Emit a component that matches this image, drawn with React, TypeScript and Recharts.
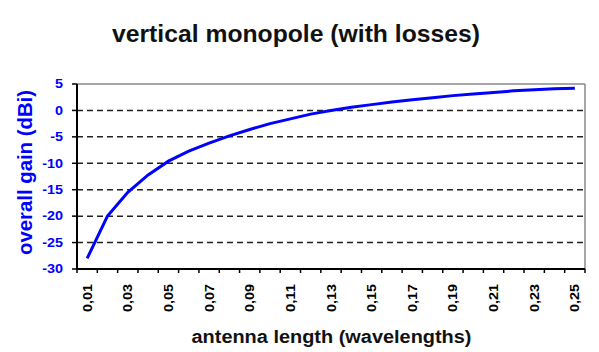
import { LineChart, Line, XAxis, YAxis, ReferenceLine } from "recharts";

const LENGTHS = [
  0.01, 0.02, 0.03, 0.04, 0.05, 0.06, 0.07, 0.08, 0.09, 0.1, 0.11, 0.12, 0.13,
  0.14, 0.15, 0.16, 0.17, 0.18, 0.19, 0.2, 0.21, 0.22, 0.23, 0.24, 0.25,
];
const GAIN = [
  -28.0, -20.0, -15.5, -12.2, -9.6, -7.7, -6.2, -4.8, -3.6, -2.5, -1.6, -0.7,
  0.0, 0.6, 1.1, 1.6, 2.0, 2.4, 2.8, 3.1, 3.4, 3.7, 3.9, 4.1, 4.2,
];
const LABEL_TICKS = [
  0.01, 0.03, 0.05, 0.07, 0.09, 0.11, 0.13, 0.15, 0.17, 0.19, 0.21, 0.23, 0.25,
];
const EDGE_TICKS = [
  0.005, 0.015, 0.025, 0.035, 0.045, 0.055, 0.065, 0.075, 0.085, 0.095, 0.105,
  0.115, 0.125, 0.135, 0.145, 0.155, 0.165, 0.175, 0.185, 0.195, 0.205, 0.215,
  0.225, 0.235, 0.245, 0.255,
];
const Y_TICKS = [-30, -25, -20, -15, -10, -5, 0, 5];
const GRID_LINES = [-25, -20, -15, -10, -5, 0];
const X_DOMAIN = [0.005, 0.255];

const FONT = "'Liberation Sans', Arial, sans-serif";
const BLUE = "#0000ff";

const data = LENGTHS.map((len, i) => ({ len, gain: GAIN[i] }));

// rotated labels, read bottom to top, top end just under the axis
function XTick({ x, y, payload }: any) {
  const label = payload.value.toFixed(2).replace(".", ",");
  return (
    <text
      transform={`translate(${x + 4.5},${y + 14}) rotate(-90)`}
      textAnchor="end"
      fontFamily={FONT}
      fontSize={13}
      fontWeight="bold"
      fill="#000"
      textLength={28}
      lengthAdjust="spacingAndGlyphs"
    >
      {label}
    </text>
  );
}

// small outward tick under the axis, between categories
function EdgeTick({ x, y }: any) {
  return <line x1={x} x2={x} y1={y - 4} y2={y} stroke="#000" strokeWidth={1.5} />;
}

function YTick({ x, y, payload }: any) {
  return (
    <g>
      <line x1={x + 9} x2={x + 14} y1={y} y2={y} stroke="#000" strokeWidth={1.5} />
      <text
        transform={`translate(${x},${y}) scale(1.2,1)`}
        textAnchor="end"
        dy="0.36em"
        fontFamily={FONT}
        fontSize={12}
        fontWeight="bold"
        fill={BLUE}
      >
        {payload.value}
      </text>
    </g>
  );
}

export default function App() {
  return (
    <div
      style={{
        position: "absolute",
        left: 0,
        top: 0,
        width: 599,
        height: 352,
        background: "#fff",
      }}
    >
      <LineChart
        width={599}
        height={352}
        data={data}
        margin={{ top: 84, right: 14, bottom: 81, left: 17 }}
      >
        <XAxis
          xAxisId="x"
          dataKey="len"
          type="number"
          domain={X_DOMAIN}
          ticks={LABEL_TICKS}
          interval={0}
          height={1}
          tickSize={0}
          tickMargin={0}
          tickLine={false}
          axisLine={false}
          tick={XTick}
          allowDataOverflow
        />
        <XAxis
          xAxisId="edges"
          dataKey="len"
          type="number"
          domain={X_DOMAIN}
          ticks={EDGE_TICKS}
          interval={0}
          height={1}
          tickSize={4}
          tickMargin={0}
          tickLine={false}
          axisLine={false}
          tick={EdgeTick}
          allowDataOverflow
        />
        <YAxis
          width={60}
          domain={[-30, 5]}
          ticks={Y_TICKS}
          interval={0}
          tickSize={5}
          tickMargin={9}
          tickLine={false}
          axisLine={false}
          tick={YTick}
          allowDataOverflow
        />
        {GRID_LINES.map((v) => (
          <ReferenceLine
            key={v}
            xAxisId="x"
            y={v}
            stroke="#222"
            strokeWidth={1.5}
            strokeDasharray="6 4"
          />
        ))}
        <ReferenceLine xAxisId="x" y={5} stroke="#888" strokeWidth={1.5} />
        <ReferenceLine xAxisId="x" x={0.255} stroke="#888" strokeWidth={1.5} />
        <ReferenceLine xAxisId="x" y={-30} stroke="#000" strokeWidth={2} />
        <ReferenceLine xAxisId="x" x={0.005} stroke="#000" strokeWidth={2} />
        <Line
          xAxisId="x"
          type="linear"
          dataKey="gain"
          stroke={BLUE}
          strokeWidth={3}
          dot={false}
          isAnimationActive={false}
        />
      </LineChart>
      <svg
        width={599}
        height={352}
        style={{ position: "absolute", left: 0, top: 0, pointerEvents: "none" }}
      >
        <text
          x={296}
          y={42}
          textAnchor="middle"
          fontFamily={FONT}
          fontSize={24}
          fontWeight="bold"
          fill="#111"
          textLength={368}
          lengthAdjust="spacingAndGlyphs"
        >
          vertical monopole (with losses)
        </text>
        <text
          transform="translate(31.5,172.5) rotate(-90)"
          textAnchor="middle"
          fontFamily={FONT}
          fontSize={21}
          fontWeight="bold"
          fill={BLUE}
          textLength={165}
          lengthAdjust="spacingAndGlyphs"
        >
          overall gain (dBi)
        </text>
        <text
          x={331.5}
          y={343}
          textAnchor="middle"
          fontFamily={FONT}
          fontSize={18}
          fontWeight="bold"
          fill="#111"
          textLength={280}
          lengthAdjust="spacingAndGlyphs"
        >
          antenna length (wavelengths)
        </text>
      </svg>
    </div>
  );
}
